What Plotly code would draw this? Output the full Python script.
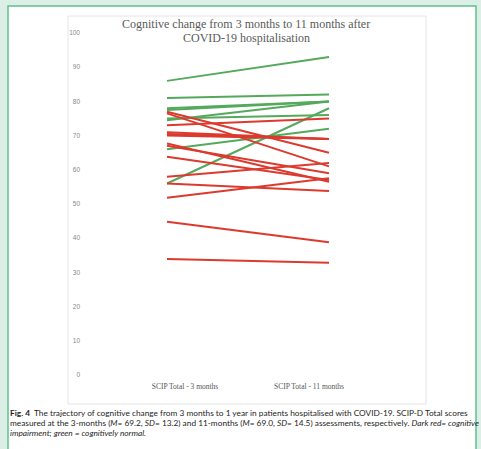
import plotly.graph_objects as go

categories = ["SCIP Total - 3 months", "SCIP Total - 11 months"]
y_ticks = [0, 10, 20, 30, 40, 50, 60, 70, 80, 90, 100]

# green = cognitively normal
green_3m = [86, 81, 78, 77.5, 75, 74.5, 66, 56]
green_11m = [93, 82, 80, 80, 76, 80, 72, 78]
# red = cognitive impairment
red_3m = [77, 76.5, 73, 71, 70.5, 70, 67.7, 67, 63.8, 58, 56, 51.8, 44.8, 33.9]
red_11m = [65, 61, 75, 69, 69, 69, 56.5, 59, 57, 62, 53.8, 57.5, 38.8, 32.8]

W, H = 481, 449
L, R, T, B = 81, 55, 33, 74
PW, PH = W - L - R, H - T - B

def px(x):
    return (x - L) / PW

def py(y):
    return 1 - (y - T) / PH

GREEN = "#55a95c"
RED = "#dc3a2e"

fig = go.Figure()
for a, b in zip(green_3m, green_11m):
    fig.add_trace(go.Scatter(x=[0, 1], y=[a, b], mode="lines",
                             line=dict(color=GREEN, width=2), showlegend=False, hoverinfo="skip"))
for a, b in zip(red_3m, red_11m):
    fig.add_trace(go.Scatter(x=[0, 1], y=[a, b], mode="lines",
                             line=dict(color=RED, width=2), showlegend=False, hoverinfo="skip"))

# x range so that category 0 sits at 167px and category 1 at 329px
x0p, x1p = 167, 329
u = x1p - x0p
xr = [(L - x0p) / u, (W - R - x0p) / u]

shapes = [
    dict(type="rect", xref="paper", yref="paper", x0=px(8), x1=px(476), y0=py(470), y1=py(6),
         fillcolor="white", line=dict(color="#62bf8e", width=1.5), layer="below"),
    dict(type="rect", xref="paper", yref="paper", x0=px(68), x1=px(426), y0=py(404), y1=py(16),
         fillcolor="rgba(0,0,0,0)", line=dict(color="#e4e4e4", width=1), layer="below"),
]

CAP = dict(family="Lato", size=8.3, color="#1e1e1e")
annotations = [
    dict(text="Cognitive change from 3 months to 11 months after", xref="paper", yref="paper",
         x=px(246), y=py(24), xanchor="center", yanchor="middle", showarrow=False,
         font=dict(family="Liberation Serif", size=12, color="#5a5a5a")),
    dict(text="COVID-19 hospitalisation", xref="paper", yref="paper",
         x=px(246), y=py(38), xanchor="center", yanchor="middle", showarrow=False,
         font=dict(family="Liberation Serif", size=12, color="#5a5a5a")),
    dict(text="<b>Fig. 4</b>  The trajectory of cognitive change from 3 months to 1 year in patients hospitalised with COVID-19. SCIP-D Total scores",
         xref="paper", yref="paper", x=px(8), y=py(413), xanchor="left", yanchor="middle", showarrow=False,
         font=CAP),
    dict(text="measured at the 3-months (<i>M</i>= 69.2, <i>SD</i>= 13.2) and 11-months (<i>M</i>= 69.0, <i>SD</i>= 14.5) assessments, respectively. <i>Dark red= cognitive</i>",
         xref="paper", yref="paper", x=px(8), y=py(423), xanchor="left", yanchor="middle", showarrow=False,
         font=CAP),
    dict(text="<i>impairment; green = cognitively normal.</i>",
         xref="paper", yref="paper", x=px(8), y=py(433), xanchor="left", yanchor="middle", showarrow=False,
         font=CAP),
]

fig.update_layout(
    width=W, height=H,
    margin=dict(l=L, r=R, t=T, b=B),
    paper_bgcolor="#dcefe6",
    plot_bgcolor="rgba(0,0,0,0)",
    shapes=shapes,
    annotations=annotations,
    showlegend=False,
)
fig.update_xaxes(range=xr, tickvals=[(185 - x0p) / u, (309 - x0p) / u], ticktext=categories,
                 showgrid=False, zeroline=False, showline=False, ticks="",
                 ticklabelstandoff=5,
                 tickfont=dict(family="Liberation Serif", size=7.5, color="#555"))
fig.update_yaxes(range=[0, 100], tickvals=y_ticks, showgrid=False, zeroline=False, showline=False,
                 ticks="", tickfont=dict(family="Liberation Sans", size=6.5, color="#888"))

fig.write_html("out.html", config={"displayModeBar": False},
               post_script="document.body.style.margin='0';document.body.style.overflow='hidden';document.body.style.background='#dcefe6';")
